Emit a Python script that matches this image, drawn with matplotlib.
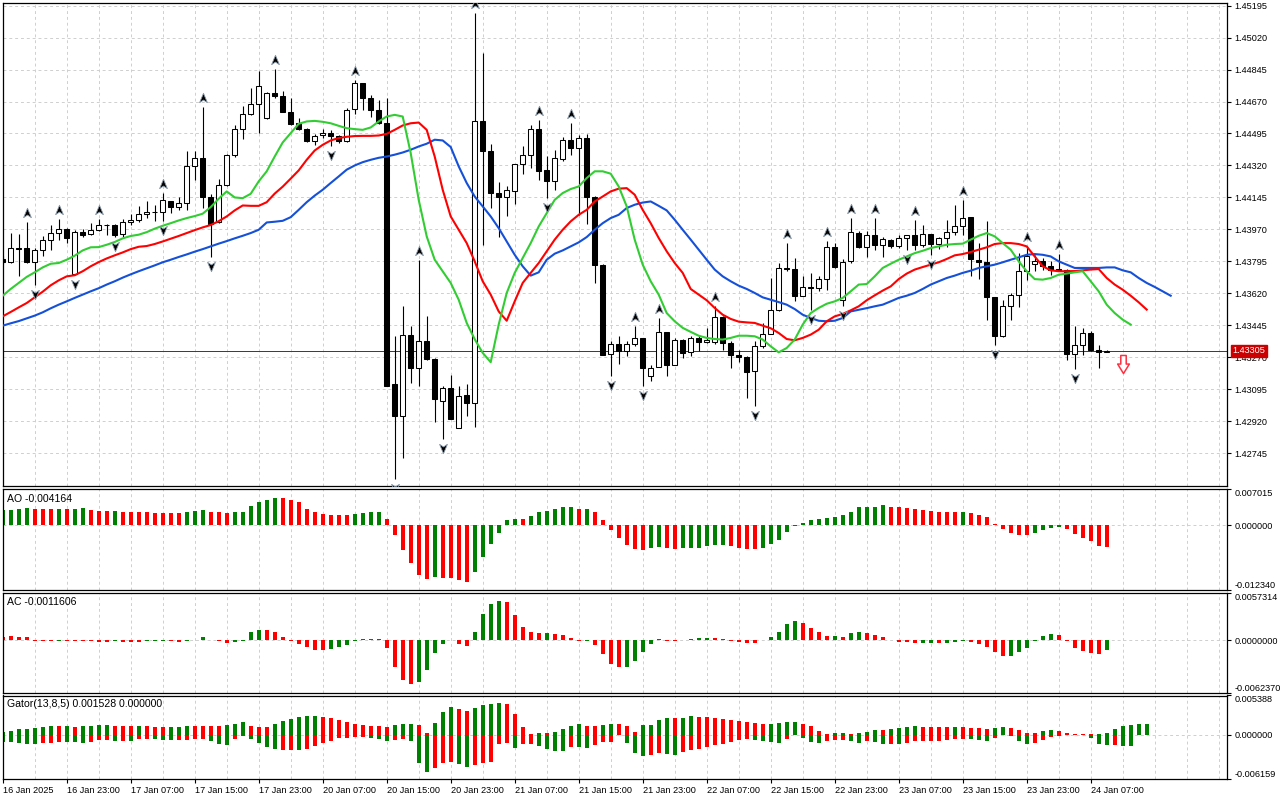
import numpy as np
import matplotlib
matplotlib.use("Agg")
import matplotlib.pyplot as plt
import matplotlib.transforms as mtransforms
from matplotlib.path import Path

plt.rcParams['font.family'] = ['Liberation Sans', 'DejaVu Sans']

# H1 candles, 16 Jan 15:00 .. 24 Jan 09:00
opens = [1.43808, 1.43790, 1.43868, 1.43868, 1.43790, 1.43859, 1.43910, 1.43950, 1.43972, 1.43726,
         1.43955, 1.43945, 1.43968, 1.43994, 1.43994, 1.43945, 1.44010, 1.44021, 1.44056, 1.44067,
         1.44065, 1.44125, 1.44092, 1.44114, 1.44318, 1.44360, 1.44147, 1.44008, 1.44211, 1.44375,
         1.44519, 1.44601, 1.44659, 1.44579, 1.44715, 1.44701, 1.44611, 1.44551, 1.44519, 1.44452,
         1.44488, 1.44497, 1.44479, 1.44452, 1.44628, 1.44770, 1.44688, 1.44621, 1.44551, 1.43121,
         1.42948, 1.43394, 1.43212, 1.43357, 1.43263, 1.43030, 1.43100, 1.42884, 1.43062, 1.43021,
         1.44566, 1.44397, 1.44172, 1.44147, 1.44178, 1.44327, 1.44375, 1.44519, 1.44293, 1.44233,
         1.44358, 1.44459, 1.44418, 1.44470, 1.44150, 1.43777, 1.43288, 1.43343, 1.43306, 1.43343,
         1.43376, 1.43166, 1.43217, 1.43407, 1.43226, 1.43367, 1.43297, 1.43376, 1.43354, 1.43354,
         1.43489, 1.43348, 1.43281, 1.43272, 1.43197, 1.43330, 1.43398, 1.43527, 1.43759, 1.43753,
         1.43607, 1.43655, 1.43647, 1.43698, 1.43873, 1.43585, 1.43795, 1.43950, 1.43873, 1.43939,
         1.43886, 1.43910, 1.43877, 1.43921, 1.43939, 1.43883, 1.43945, 1.43890, 1.43923, 1.43955,
         1.43988, 1.44037, 1.43804, 1.43790, 1.43600, 1.43385, 1.43553, 1.43611, 1.43741, 1.43782,
         1.43795, 1.43768, 1.43753, 1.43750, 1.43290, 1.43339, 1.43403, 1.43308, 1.43301]
highs = [1.43826, 1.43950, 1.43945, 1.44008, 1.43868, 1.43932, 1.43996, 1.44028, 1.43979, 1.43968,
         1.43972, 1.44004, 1.44028, 1.43997, 1.44001, 1.44027, 1.44054, 1.44098, 1.44125, 1.44105,
         1.44169, 1.44127, 1.44145, 1.44397, 1.44397, 1.44639, 1.44165, 1.44246, 1.44384, 1.44541,
         1.44643, 1.44743, 1.44837, 1.44724, 1.44846, 1.44730, 1.44688, 1.44579, 1.44524, 1.44492,
         1.44519, 1.44515, 1.44488, 1.44632, 1.44788, 1.44772, 1.44706, 1.44679, 1.44688, 1.43385,
         1.43549, 1.43440, 1.43804, 1.43494, 1.43266, 1.43112, 1.43175, 1.43112, 1.43121, 1.45153,
         1.44934, 1.44439, 1.44227, 1.44209, 1.44329, 1.44424, 1.44541, 1.44570, 1.44373, 1.44406,
         1.44477, 1.44555, 1.44488, 1.44492, 1.44152, 1.43779, 1.43357, 1.43385, 1.43357, 1.43440,
         1.43378, 1.43230, 1.43485, 1.43409, 1.43376, 1.43368, 1.43385, 1.43388, 1.43431, 1.43549,
         1.43494, 1.43357, 1.43312, 1.43275, 1.43357, 1.43458, 1.43704, 1.43786, 1.43895, 1.43813,
         1.43717, 1.43732, 1.43713, 1.43904, 1.43895, 1.43808, 1.44032, 1.43959, 1.43959, 1.44032,
         1.43928, 1.43917, 1.43941, 1.43941, 1.44023, 1.43996, 1.43946, 1.43926, 1.44019, 1.44105,
         1.44132, 1.44039, 1.43895, 1.44017, 1.43602, 1.43585, 1.43622, 1.43841, 1.43877, 1.43831,
         1.43813, 1.43795, 1.43835, 1.43751, 1.43443, 1.43431, 1.43412, 1.43339, 1.43308]
lows = [1.43782, 1.43786, 1.43717, 1.43786, 1.43668, 1.43822, 1.43859, 1.43914, 1.43895, 1.43722,
        1.43926, 1.43941, 1.43959, 1.43941, 1.43926, 1.43928, 1.43992, 1.44008, 1.44032, 1.44014,
        1.44014, 1.44058, 1.44077, 1.44077, 1.44238, 1.44087, 1.43817, 1.44004, 1.44209, 1.44369,
        1.44464, 1.44597, 1.44497, 1.44577, 1.44688, 1.44610, 1.44541, 1.44515, 1.44450, 1.44430,
        1.44470, 1.44424, 1.44442, 1.44446, 1.44601, 1.44624, 1.44584, 1.44548, 1.43112, 1.42601,
        1.42719, 1.43130, 1.43115, 1.43257, 1.42915, 1.42820, 1.42930, 1.42882, 1.42948, 1.42887,
        1.43886, 1.44087, 1.43928, 1.44041, 1.44109, 1.44274, 1.44306, 1.44242, 1.44141, 1.44187,
        1.44347, 1.44378, 1.44050, 1.44001, 1.43677, 1.43283, 1.43166, 1.43233, 1.43279, 1.43330,
        1.43112, 1.43139, 1.43215, 1.43166, 1.43225, 1.43266, 1.43279, 1.43306, 1.43348, 1.43344,
        1.43312, 1.43212, 1.43243, 1.43048, 1.43006, 1.43321, 1.43396, 1.43521, 1.43741, 1.43576,
        1.43604, 1.43530, 1.43631, 1.43640, 1.43759, 1.43553, 1.43786, 1.43868, 1.43817, 1.43859,
        1.43817, 1.43868, 1.43868, 1.43855, 1.43859, 1.43873, 1.43831, 1.43862, 1.43873, 1.43941,
        1.43941, 1.43713, 1.43698, 1.43472, 1.43336, 1.43379, 1.43472, 1.43545, 1.43695, 1.43741,
        1.43750, 1.43722, 1.43741, 1.43257, 1.43206, 1.43285, 1.43303, 1.43212, 1.43297]
closes = [1.43793, 1.43868, 1.43864, 1.43790, 1.43859, 1.43914, 1.43950, 1.43972, 1.43921, 1.43955,
          1.43941, 1.43968, 1.43994, 1.43992, 1.43939, 1.44012, 1.44021, 1.44054, 1.44067, 1.44065,
          1.44130, 1.44092, 1.44114, 1.44315, 1.44360, 1.44147, 1.44001, 1.44211, 1.44377, 1.44519,
          1.44601, 1.44659, 1.44757, 1.44715, 1.44701, 1.44611, 1.44548, 1.44519, 1.44452, 1.44483,
          1.44497, 1.44479, 1.44452, 1.44624, 1.44770, 1.44688, 1.44621, 1.44551, 1.43115, 1.42948,
          1.43394, 1.43212, 1.43357, 1.43263, 1.43039, 1.43100, 1.42933, 1.43057, 1.43021, 1.44561,
          1.44397, 1.44172, 1.44147, 1.44183, 1.44327, 1.44377, 1.44519, 1.44287, 1.44233, 1.44360,
          1.44459, 1.44418, 1.44473, 1.44150, 1.43777, 1.43285, 1.43343, 1.43306, 1.43343, 1.43376,
          1.43212, 1.43212, 1.43407, 1.43226, 1.43367, 1.43294, 1.43376, 1.43354, 1.43367, 1.43489,
          1.43348, 1.43281, 1.43272, 1.43190, 1.43330, 1.43398, 1.43527, 1.43759, 1.43753, 1.43607,
          1.43655, 1.43649, 1.43698, 1.43873, 1.43764, 1.43790, 1.43955, 1.43873, 1.43939, 1.43883,
          1.43917, 1.43877, 1.43923, 1.43939, 1.43883, 1.43945, 1.43890, 1.43923, 1.43955, 1.43988,
          1.44032, 1.43810, 1.43790, 1.43600, 1.43385, 1.43553, 1.43613, 1.43741, 1.43822, 1.43799,
          1.43768, 1.43750, 1.43750, 1.43290, 1.43339, 1.43403, 1.43308, 1.43301, 1.43305]

# Alligator lines (already shifted forward: jaw 8, teeth 5, lips 3)
jaw = [1.43443, 1.43456, 1.43468, 1.43483, 1.43498, 1.43516, 1.43538, 1.43558, 1.43576, 1.43595,
       1.43613, 1.43631, 1.43648, 1.43668, 1.43686, 1.43706, 1.43724, 1.43741, 1.43757, 1.43773,
       1.43790, 1.43804, 1.43819, 1.43833, 1.43848, 1.43862, 1.43877, 1.43892, 1.43906, 1.43921,
       1.43935, 1.43950, 1.43968, 1.44008, 1.44012, 1.44017, 1.44037, 1.44077, 1.44119, 1.44155,
       1.44187, 1.44224, 1.44260, 1.44297, 1.44320, 1.44338, 1.44351, 1.44362, 1.44369, 1.44379,
       1.44391, 1.44406, 1.44424, 1.44439, 1.44461, 1.44457, 1.44421, 1.44315, 1.44224, 1.44150,
       1.44096, 1.44041, 1.43977, 1.43904, 1.43831, 1.43768, 1.43717, 1.43735, 1.43804, 1.43837,
       1.43855, 1.43877, 1.43899, 1.43928, 1.43968, 1.44004, 1.44032, 1.44050, 1.44087, 1.44105,
       1.44117, 1.44123, 1.44099, 1.44074, 1.44023, 1.43968, 1.43914, 1.43859, 1.43804, 1.43750,
       1.43713, 1.43686, 1.43662, 1.43644, 1.43622, 1.43598, 1.43585, 1.43572, 1.43558, 1.43534,
       1.43503, 1.43485, 1.43470, 1.43467, 1.43470, 1.43485, 1.43521, 1.43530, 1.43539, 1.43549,
       1.43558, 1.43576, 1.43595, 1.43607, 1.43622, 1.43644, 1.43668, 1.43686, 1.43704, 1.43717,
       1.43732, 1.43744, 1.43759, 1.43768, 1.43777, 1.43790, 1.43804, 1.43817, 1.43831, 1.43835,
       1.43831, 1.43822, 1.43795, 1.43777, 1.43759, 1.43759, 1.43759, 1.43759, 1.43762, 1.43762,
       1.43746, 1.43735, 1.43704, 1.43677, 1.43655, 1.43631, 1.43607]
teeth = [1.43494, 1.43518, 1.43543, 1.43567, 1.43598, 1.43629, 1.43664, 1.43691, 1.43713, 1.43719,
         1.43741, 1.43768, 1.43791, 1.43811, 1.43828, 1.43844, 1.43862, 1.43875, 1.43879, 1.43890,
         1.43904, 1.43919, 1.43934, 1.43950, 1.43966, 1.43981, 1.43994, 1.44015, 1.44041, 1.44074,
         1.44101, 1.44099, 1.44099, 1.44119, 1.44166, 1.44204, 1.44248, 1.44293, 1.44351, 1.44402,
         1.44433, 1.44457, 1.44470, 1.44477, 1.44481, 1.44482, 1.44482, 1.44484, 1.44493, 1.44515,
         1.44539, 1.44551, 1.44555, 1.44515, 1.44369, 1.44187, 1.44041, 1.43968, 1.43895, 1.43795,
         1.43686, 1.43613, 1.43521, 1.43470, 1.43576, 1.43677, 1.43732, 1.43786, 1.43850, 1.43914,
         1.43968, 1.44014, 1.44050, 1.44077, 1.44123, 1.44150, 1.44178, 1.44193, 1.44196, 1.44160,
         1.44077, 1.44004, 1.43923, 1.43850, 1.43786, 1.43732, 1.43644, 1.43613, 1.43582, 1.43540,
         1.43503, 1.43480, 1.43465, 1.43461, 1.43458, 1.43443, 1.43429, 1.43403, 1.43370, 1.43363,
         1.43376, 1.43394, 1.43421, 1.43467, 1.43494, 1.43507, 1.43527, 1.43549, 1.43582, 1.43609,
         1.43635, 1.43658, 1.43698, 1.43728, 1.43750, 1.43764, 1.43777, 1.43790, 1.43808, 1.43828,
         1.43835, 1.43846, 1.43859, 1.43872, 1.43890, 1.43895, 1.43895, 1.43890, 1.43877, 1.43822,
         1.43768, 1.43746, 1.43741, 1.43741, 1.43742, 1.43746, 1.43750, 1.43753, 1.43704, 1.43668,
         1.43640, 1.43607, 1.43571, 1.43531]
lips = [1.43607, 1.43644, 1.43677, 1.43710, 1.43735, 1.43762, 1.43782, 1.43786, 1.43804, 1.43826,
        1.43855, 1.43872, 1.43873, 1.43886, 1.43901, 1.43921, 1.43934, 1.43941, 1.43955, 1.43974,
        1.43990, 1.44004, 1.44019, 1.44032, 1.44043, 1.44056, 1.44092, 1.44138, 1.44178, 1.44145,
        1.44141, 1.44165, 1.44233, 1.44288, 1.44369, 1.44446, 1.44497, 1.44548, 1.44561, 1.44564,
        1.44559, 1.44551, 1.44537, 1.44524, 1.44519, 1.44515, 1.44528, 1.44561, 1.44588, 1.44597,
        1.44588, 1.44388, 1.44132, 1.43932, 1.43804, 1.43741, 1.43677, 1.43585, 1.43458, 1.43369,
        1.43294, 1.43243, 1.43449, 1.43622, 1.43732, 1.43813, 1.43895, 1.43986, 1.44059, 1.44132,
        1.44169, 1.44191, 1.44205, 1.44251, 1.44288, 1.44288, 1.44275, 1.44205, 1.44096, 1.43914,
        1.43777, 1.43686, 1.43613, 1.43512, 1.43467, 1.43431, 1.43409, 1.43388, 1.43376, 1.43370,
        1.43367, 1.43376, 1.43388, 1.43388, 1.43385, 1.43367, 1.43330, 1.43297, 1.43321, 1.43367,
        1.43449, 1.43512, 1.43540, 1.43563, 1.43576, 1.43595, 1.43631, 1.43668, 1.43671, 1.43713,
        1.43759, 1.43782, 1.43804, 1.43822, 1.43840, 1.43853, 1.43868, 1.43877, 1.43886, 1.43890,
        1.43892, 1.43914, 1.43935, 1.43950, 1.43932, 1.43895, 1.43859, 1.43795, 1.43741, 1.43698,
        1.43695, 1.43704, 1.43722, 1.43728, 1.43735, 1.43741, 1.43686, 1.43631, 1.43558, 1.43512,
        1.43476, 1.43449]

# bill williams fractals (bar indexes)
up_fractals = [3, 7, 12, 20, 25, 34, 44, 52, 59, 67, 71, 79, 82, 89, 98, 103, 106, 109, 114, 120, 128, 132]
down_fractals = [4, 9, 14, 20, 26, 41, 49, 55, 68, 76, 80, 94, 101, 105, 113, 116, 124, 134]

signal_bar = 140
signal_price = 1.43231
last_price = 1.43305

# Awesome oscillator
ao = [0.00294, 0.00307, 0.00326, 0.00333, 0.00326, 0.00325, 0.00324, 0.00326, 0.00325, 0.00326,
      0.00328, 0.00301, 0.00288, 0.00282, 0.00288, 0.00269, 0.00262, 0.00256, 0.0025, 0.00249,
      0.00243, 0.00242, 0.00237, 0.00256, 0.00275, 0.00307, 0.00269, 0.00256, 0.00237, 0.0025,
      0.00251, 0.00371, 0.00461, 0.00499, 0.00538, 0.00535, 0.00499, 0.00461, 0.00326, 0.00269,
      0.0023, 0.00211, 0.00198, 0.00197, 0.00218, 0.00243, 0.0025, 0.00252, 0.00134, -0.00192,
      -0.00474, -0.0073, -0.0096, -0.01037, -0.00998, -0.01000, -0.01002, -0.0105, -0.01094, -0.00902,
      -0.00614, -0.00365, -0.00147, 0.00102, 0.00134, 0.0013, 0.00173, 0.00256, 0.00288, 0.00326,
      0.00346, 0.0035, 0.00324, 0.00326, 0.00269, 0.00115, -0.0009, -0.00243, -0.00378, -0.00454,
      -0.0048, -0.00435, -0.00422, -0.00442, -0.00461, -0.00435, -0.00429, -0.00427, -0.00403, -0.00384,
      -0.0038, -0.00403, -0.00429, -0.00448, -0.00461, -0.00435, -0.00365, -0.00282, -0.00128, -0.00019,
      0.00051, 0.00115, 0.00134, 0.00138, 0.00166, 0.00205, 0.00269, 0.00346, 0.00358, 0.00365,
      0.00403, 0.00365, 0.00346, 0.00339, 0.0032, 0.00307, 0.00288, 0.00269, 0.00268, 0.00256,
      0.00269, 0.00243, 0.00211, 0.00154, 0.00038, -0.0007, -0.00147, -0.00186, -0.00188, -0.00141,
      -0.0009, -0.00051, -0.00032, -0.0007, -0.00166, -0.00243, -0.00301, -0.00403, -0.004164]
ao_colors = ("GGGGRRRGRG" "GRRRGRRRRR" "RRRGGGRRRG" "GGGGGRRRRR" "RRRRGGGGRR"
             "RRRRGRRRRG" "GGGGGRGGGG" "GGRGRRRRRR" "RGGRRGGGGG" "GRRRRGGGGG"
             "GGGGGGGGGG" "GRRRRRRRRR" "GRRRRRRRRG" "GGGRRRRRR")

# Accelerator oscillator
ac = [0.0004, 0.00048, 0.00036, 0.00036, -0.00008, -0.00008, -0.00008, -0.00004, -0.00008, -0.00008,
      -0.00009, -0.00012, -0.00016, -0.00017, -0.00008, -0.00016, -0.0002, -0.00016, -0.00008, -0.00004,
      -0.00003, -0.00008, -0.00016, -0.00008, 0.00008, 0.00036, 0.00001, -0.00008, -0.00028, -0.00016,
      -0.00008, 0.00096, 0.00131, 0.0013, 0.00107, 0.00044, -0.00008, -0.00044, -0.0008, -0.00115,
      -0.00117, -0.00103, -0.0008, -0.00056, -0.00004, 0.00016, 0.0002, 0.00019, -0.00092, -0.00318,
      -0.00474, -0.00521, -0.00498, -0.00354, -0.00151, -0.00044, 0.00008, -0.0004, -0.00068, 0.00107,
      0.00314, 0.00434, 0.00466, 0.00465, 0.0031, 0.00163, 0.001, 0.00084, 0.00085, 0.00083,
      0.0006, 0.00032, -0.00004, -0.00002, -0.00056, -0.00163, -0.00283, -0.00318, -0.00316, -0.00247,
      -0.00139, -0.00044, 0.00012, -0.00004, -0.00005, 0.00001, 0.0002, 0.00024, 0.00025, 0.00024,
      0.00012, -0.00004, -0.0002, -0.00028, -0.00029, 0.0, 0.00044, 0.00107, 0.00195, 0.00227,
      0.00203, 0.00151, 0.001, 0.00052, 0.0005, 0.00047, 0.00084, 0.00107, 0.00084, 0.0006,
      0.00036, 0.0, -0.0002, -0.00016, -0.00032, -0.00031, -0.0003, -0.00036, -0.00032, -0.00016,
      -0.00008, -0.0002, -0.00044, -0.00072, -0.00139, -0.00187, -0.00186, -0.00139, -0.00092, -0.00008,
      0.00048, 0.00072, 0.00071, -0.00004, -0.00084, -0.00131, -0.00151, -0.00163, -0.0011606]
ac_colors = ("RRRRRRRGRR" "RRRRGRRRGG" "GRRGGGRRRG" "GGGRRRRRRR" "RGGGGGGRRR"
             "RRGGGGGRRG" "GGGRRRRRGR" "RRRGRRRRGG" "GGGRRGGGGR" "RRRRRGGGGG"
             "RRRRGRGGRR" "RRRRRGGRGG" "GRRRRRGGGG" "GGRRRRRRG")

# Gator oscillator
gator_up = [0.00037, 0.00055, 0.00078, 0.00083, 0.00096, 0.0011, 0.00124, 0.00122, 0.00124, 0.0011,
            0.00124, 0.00125, 0.00138, 0.00139, 0.00124, 0.00123, 0.00122, 0.00123, 0.00119, 0.00106,
            0.00105, 0.0011, 0.00111, 0.00124, 0.00123, 0.00122, 0.00121, 0.0012, 0.00133, 0.00147,
            0.00174, 0.00124, 0.0011, 0.00108, 0.00147, 0.00193, 0.00216, 0.00248, 0.0025, 0.00257,
            0.00248, 0.0023, 0.00202, 0.00174, 0.00147, 0.00133, 0.00124, 0.00122, 0.0011, 0.00138,
            0.00147, 0.00148, 0.00133, 0.00028, 0.00165, 0.00317, 0.00386, 0.00349, 0.0033, 0.00363,
            0.00409, 0.00427, 0.00441, 0.00427, 0.00285, 0.0011, 0.00009, 0.00028, 0.00027, 0.00041,
            0.00083, 0.00124, 0.00151, 0.00124, 0.00122, 0.00138, 0.00151, 0.0015, 0.00124, 0.00041,
            0.00138, 0.00139, 0.00207, 0.00234, 0.00233, 0.00235, 0.00262, 0.00248, 0.00247, 0.00234,
            0.0022, 0.00207, 0.00193, 0.00179, 0.00165, 0.00151, 0.00152, 0.00153, 0.00179, 0.0018,
            0.00151, 0.00124, 0.00055, 0.00009, 0.00026, 0.00028, 0.00009, 0.00028, 0.00041, 0.00069,
            0.00068, 0.00083, 0.00096, 0.0011, 0.00124, 0.0011, 0.00109, 0.00108, 0.00107, 0.00108,
            0.00107, 0.00096, 0.00095, 0.00083, 0.00096, 0.0011, 0.00096, 0.00069, 0.00028, 0.00018,
            0.00055, 0.00069, 0.00055, 0.00028, 0.00014, 0.00009, 0.00003, 0.00005, 0.00018, 0.00083,
            0.00124, 0.00138, 0.00151, 0.001528]
gator_up_colors = ("GGGGGGGRGR" "GGGGRRRGRR" "RGGGRRRRGG" "GRRRGGGGGG" "RRRRRRRRRG"
                   "GGRRGGGRRG" "GGGRRRRGRG" "GGGRRGGRRR" "GGGGRGGRRR" "RRRRRRGGGG"
                   "RRRRGGRGGG" "RGGGGRRRRG" "RRRRGGRRRR" "GGRRRRRGGG" "GGGG")
gator_dn = [-0.00101, -0.00101, -0.00119, -0.00129, -0.0013, -0.00115, -0.00114, -0.00101, -0.00102, -0.00103,
            -0.00115, -0.00101, -0.00078, -0.00077, -0.00087, -0.00086, -0.00088, -0.00064, -0.00063, -0.0006,
            -0.00073, -0.00074, -0.00073, -0.00072, -0.00064, -0.00063, -0.00092, -0.00133, -0.00147, -0.0006,
            -0.00023, -0.0006, -0.00115, -0.0017, -0.00202, -0.00211, -0.0021, -0.00212, -0.00197, -0.00156,
            -0.00119, -0.00083, -0.0005, -0.00049, -0.00028, -0.00027, -0.00046, -0.0006, -0.00087, -0.00073,
            -0.0006, -0.00092, -0.00395, -0.00519, -0.00464, -0.00395, -0.00372, -0.00404, -0.00445, -0.00422,
            -0.00395, -0.00372, -0.00133, -0.00119, -0.00188, -0.00133, -0.00132, -0.00161, -0.00202, -0.0023,
            -0.00231, -0.00174, -0.00175, -0.00188, -0.00147, -0.00106, -0.00105, -0.00009, -0.00119, -0.00257,
            -0.00298, -0.00285, -0.00257, -0.00271, -0.00285, -0.00243, -0.00216, -0.00202, -0.00174, -0.00147,
            -0.00133, -0.00106, -0.00078, -0.00064, -0.00078, -0.00092, -0.00106, -0.00119, -0.00064, -0.00005,
            -0.0005, -0.00106, -0.00119, -0.00092, -0.00078, -0.00075, -0.00092, -0.00119, -0.00092, -0.00106,
            -0.00133, -0.00132, -0.00134, -0.00119, -0.00092, -0.00091, -0.0009, -0.00089, -0.00078, -0.00064,
            -0.00063, -0.00065, -0.00078, -0.00092, -0.0005, -0.00009, -0.00018, -0.00092, -0.00133, -0.00119,
            -0.00078, -0.00037, -0.00023, -0.00009, -0.00008, -0.00007, -0.00046, -0.00133, -0.00147, -0.00146,
            -0.00161, -0.00162, -0.00002, -0.00002]
gator_dn_colors = ("GGGGGRRRGG" "GRRRGRGRRG" "GGRRRRGGGR" "RGGGGRRGRR" "RRRRRRGGGR"
                   "RGGGRRRGGR" "RRRRGRRGGG" "GRGGRRRRGG" "GRRGGRRRRR" "RRRRGGGGRR"
                   "GGGRRRGGRG" "GRGRRRRRRR" "RGGGRRGGGR" "RRRRRRGGGR" "GGRR")

time_labels = ["16 Jan 2025", "16 Jan 23:00", "17 Jan 07:00", "17 Jan 15:00", "17 Jan 23:00",
               "20 Jan 07:00", "20 Jan 15:00", "20 Jan 23:00", "21 Jan 07:00", "21 Jan 15:00",
               "21 Jan 23:00", "22 Jan 07:00", "22 Jan 15:00", "22 Jan 23:00", "23 Jan 07:00",
               "23 Jan 15:00", "23 Jan 23:00", "24 Jan 07:00"]

GREEN = '#008000'
RED = '#ff0000'
GRID = '#cfcfcf'
FS = 6.6
palette = {'G': GREEN, 'R': RED}

fig = plt.figure(figsize=(12.8, 8), dpi=100)
fig.patch.set_facecolor('white')

L, W = 2.7 / 1280, (1227.5 - 2.7) / 1280
ax = fig.add_axes([L, 1 - 485.7 / 800, W, 483.0 / 800])
ax_ao = fig.add_axes([L, 1 - 589.7 / 800, W, 100.7 / 800])
ax_ac = fig.add_axes([L, 1 - 692.7 / 800, W, 100.2 / 800])
ax_g = fig.add_axes([L, 1 - 779.3 / 800, W, 83.8 / 800])
panels = [ax, ax_ao, ax_ac, ax_g]
xmax = 153.1

for a in panels:
    a.set_xlim(0, xmax)
    for b in range(4, int(xmax), 4):
        a.axvline(b, color=GRID, lw=0.7, ls=(0, (3, 3)), zorder=0)
    for s in a.spines.values():
        s.set_linewidth(0.9)
        s.set_color('black')
    a.yaxis.tick_right()
    a.tick_params(axis='y', length=3, width=0.8, direction='out', pad=2, labelsize=FS)
    a.tick_params(axis='x', bottom=False, labelbottom=False)

# ---- main price panel
o = np.array(opens); h = np.array(highs); lo = np.array(lows); c = np.array(closes)
x = np.arange(len(o))
price_ticks = np.round(np.arange(1.42745, 1.45196, 0.00175), 5)
for p in price_ticks:
    ax.axhline(p, color=GRID, lw=0.7, ls=(0, (3, 3)), zorder=0)
ax.set_ylim(1.42567, 1.45211)
ax.set_yticks(price_ticks)
ax.set_yticklabels(['%.5f' % p for p in price_ticks])

ax.axhline(last_price, color='#c00000', lw=0.7, zorder=1)

bull = c >= o
ax.vlines(x, lo, h, color='black', lw=0.8, zorder=2)
ax.bar(x, np.abs(c - o), bottom=np.minimum(o, c), width=0.62,
       color=np.where(bull, 'white', 'black'), edgecolor='black', lw=0.75, zorder=3)

ax.plot(np.arange(len(jaw)), jaw, color='#1450d8', lw=1.5, zorder=4)
ax.plot(np.arange(len(teeth)), teeth, color='#ff0000', lw=1.5, zorder=4)
ax.plot(np.arange(len(lips)), lips, color='#32cd32', lw=1.5, zorder=4)

up_marker = Path([(0, 1), (0.75, -0.8), (0, -0.3), (-0.75, -0.8), (0, 1)],
                 [Path.MOVETO, Path.LINETO, Path.LINETO, Path.LINETO, Path.CLOSEPOLY])
dn_marker = Path([(0, -1), (0.75, 0.8), (0, 0.3), (-0.75, 0.8), (0, -1)],
                 [Path.MOVETO, Path.LINETO, Path.LINETO, Path.LINETO, Path.CLOSEPOLY])
up_tr = mtransforms.offset_copy(ax.transData, fig=fig, y=9, units='dots')
dn_tr = mtransforms.offset_copy(ax.transData, fig=fig, y=-9, units='dots')
ax.plot(up_fractals, h[up_fractals], ls='none', marker=up_marker, ms=7.5,
        mfc='black', mec='#8a9aa8', mew=0.6, transform=up_tr, zorder=5)
ax.plot(down_fractals, lo[down_fractals], ls='none', marker=dn_marker, ms=7.5,
        mfc='black', mec='#8a9aa8', mew=0.6, transform=dn_tr, zorder=5)

sig_marker = Path([(-0.3, 1), (0.3, 1), (0.3, 0.05), (0.65, 0.05), (0, -1), (-0.65, 0.05), (-0.3, 0.05), (-0.3, 1)],
                  [Path.MOVETO] + [Path.LINETO] * 6 + [Path.CLOSEPOLY])
ax.plot([signal_bar], [signal_price], ls='none', marker=sig_marker, ms=13,
        mfc='white', mec='#ff3040', mew=1.1, zorder=5)

ax.annotate('%.5f' % last_price, xy=(1, last_price),
            xycoords=mtransforms.blended_transform_factory(ax.transAxes, ax.transData),
            xytext=(3.5, 0), textcoords='offset points', ha='left', va='center',
            fontsize=FS, color='white', annotation_clip=False, zorder=10,
            bbox=dict(boxstyle='square,pad=0.2', fc='#cc0000', ec='#cc0000'))

# ---- sub panels
def histo(a, vals, cols, lim, title):
    a.axhline(0, color=GRID, lw=0.7, ls=(0, (3, 3)), zorder=0)
    a.bar(np.arange(len(vals)), vals, width=0.5, color=[palette[k] for k in cols], lw=0, zorder=2)
    a.set_ylim(lim[0], lim[1])
    a.set_yticks([lim[0], 0, lim[1]])
    a.set_yticklabels([lim[2], lim[3], lim[4]])
    labs = a.get_yticklabels()
    labs[0].set_va('bottom')
    labs[-1].set_va('top')
    a.text(0.0035, 0.955, title, transform=a.transAxes, ha='left', va='top', fontsize=7.6)

histo(ax_ao, ao, ao_colors, (-0.01234, 0.007015, '-0.012340', '0.000000', '0.007015'), 'AO -0.004164')
histo(ax_ac, ac, ac_colors, (-0.006237, 0.0057314, '-0.0062370', '0.0000000', '0.0057314'), 'AC -0.0011606')
histo(ax_g, gator_up, gator_up_colors, (-0.006159, 0.005388, '-0.006159', '0.000000', '0.005388'),
      'Gator(13,8,5) 0.001528 0.000000')
ax_g.bar(np.arange(len(gator_dn)), gator_dn, width=0.5, color=[palette[k] for k in gator_dn_colors], lw=0, zorder=2)

ax_g.set_xticks(np.arange(0, 8 * len(time_labels), 8))
ax_g.set_xticklabels(time_labels, ha='left')
ax_g.tick_params(axis='x', bottom=True, labelbottom=True, length=3, width=0.8,
                 direction='out', pad=1.5, labelsize=FS)

fig.savefig('out.png', dpi=100, facecolor='white')
